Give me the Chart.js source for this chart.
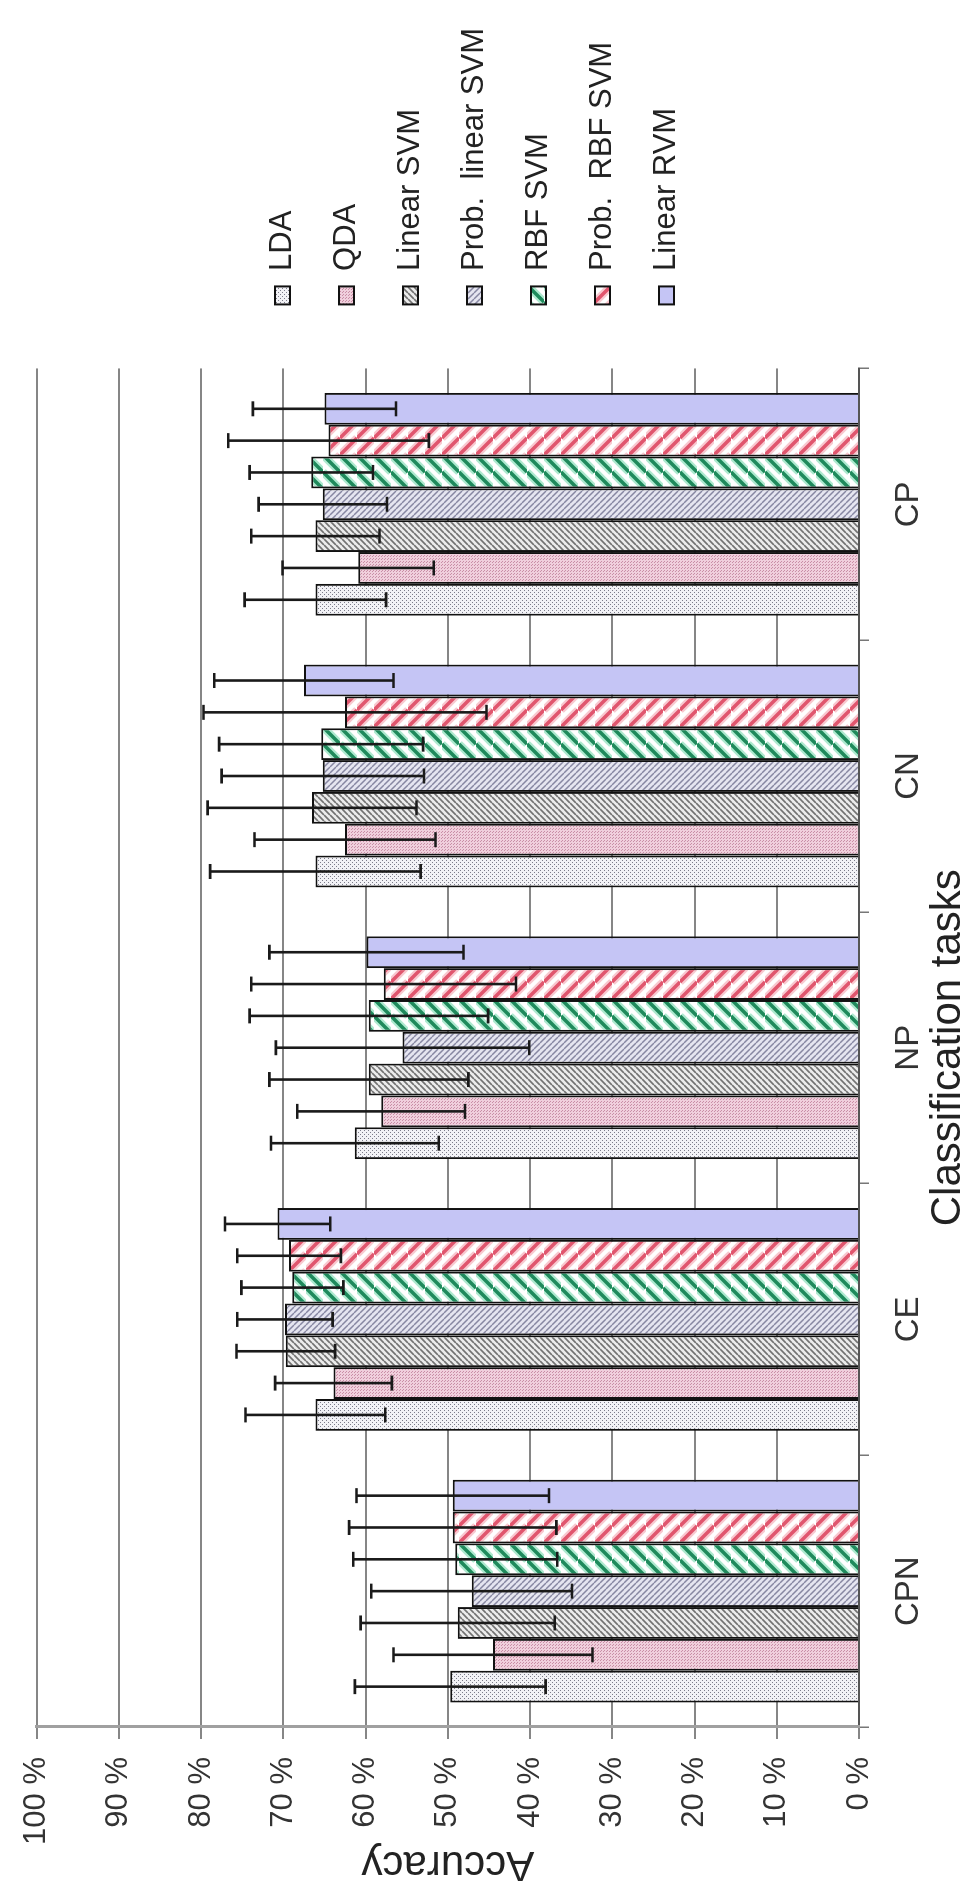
<!DOCTYPE html>
<html>
<head>
<meta charset="utf-8">
<title>Classification accuracy</title>
<script src="https://cdn.jsdelivr.net/npm/chart.js"></script>
<style>
  html, body { margin: 0; padding: 0; background: #ffffff; overflow: hidden; }
  body { width: 970px; height: 1883px; position: relative; }
  /* The chart is laid out landscape and turned a quarter-turn counter-clockwise */
  #wrap {
    position: absolute; left: 0; top: 0;
    width: 1883px; height: 970px;
    transform-origin: 0 0;
    transform: translate(0px, 1883px) rotate(-90deg);
  }
  #chart { display: block; width: 1883px; height: 970px; }
</style>
</head>
<body>
<div id="wrap"><canvas id="chart" width="1883" height="970"></canvas></div>
<script>
// Classification tasks
const tasks = ['CPN', 'CE', 'NP', 'CN', 'CP'];

// Classifier names
const classifiers = ['LDA', 'QDA', 'Linear SVM', 'Prob.  linear SVM', 'RBF SVM', 'Prob.  RBF SVM', 'Linear RVM'];

// Mean accuracy (%) per task
const ldaAcc        = [49.7, 66.1, 61.3, 66.1, 66.1];
const qdaAcc        = [44.5, 63.9, 58.1, 62.5, 60.9];
const linSvmAcc     = [48.8, 69.7, 59.6, 66.5, 66.1];
const probLinSvmAcc = [47.1, 69.8, 55.5, 65.2, 65.2];
const rbfSvmAcc     = [49.1, 68.9, 59.6, 65.4, 66.6];
const probRbfSvmAcc = [49.4, 69.3, 57.8, 62.5, 64.5];
const linRvmAcc     = [49.4, 70.7, 59.9, 67.5, 65.0];

// Standard deviation (%) per task
const ldaSd        = [11.6, 8.5, 10.2, 12.8, 8.6];
const qdaSd        = [12.1, 7.1, 10.2, 11.0, 9.2];
const linSvmSd     = [11.8, 6.0, 12.1, 12.7, 7.8];
const probLinSvmSd = [12.2, 5.8, 15.4, 12.3, 7.8];
const rbfSvmSd     = [12.4, 6.2, 14.5, 12.4, 7.5];
const probRbfSvmSd = [12.6, 6.3, 16.1, 17.2, 12.2];
const linRvmSd     = [11.7, 6.4, 11.8, 10.9, 8.7];

// Accuracy axis tick labels
const accuracyTicks = ['0 %', '10 %', '20 %', '30 %', '40 %', '50 %', '60 %', '70 %', '80 %', '90 %', '100 %'];

const FONT = "'Liberation Sans', Arial, Helvetica, sans-serif";

// ---- fill patterns ----
function hatch(size, bg, dir, strokes) {
  const c = document.createElement('canvas');
  c.width = c.height = size;
  const g = c.getContext('2d');
  g.fillStyle = bg;
  g.fillRect(0, 0, size, size);
  strokes.forEach(([color, width]) => {
    g.strokeStyle = color;
    g.lineWidth = width;
    g.beginPath();
    for (let k = -1; k <= 1; k++) {
      if (dir === '/') { g.moveTo(k * size, size); g.lineTo(k * size + size, 0); }
      else { g.moveTo(k * size, 0); g.lineTo(k * size + size, size); }
    }
    g.stroke();
  });
  return g.createPattern(c, 'repeat');
}

function dotted(size, bg, dot) {
  const c = document.createElement('canvas');
  c.width = c.height = size;
  const g = c.getContext('2d');
  g.fillStyle = bg;
  g.fillRect(0, 0, size, size);
  g.fillStyle = dot;
  const h = Math.floor(size / 2);
  g.fillRect(0, 0, 1, 1);
  g.fillRect(h, h, 1, 1);
  return g.createPattern(c, 'repeat');
}

const fills = [
  dotted(4, '#f2f2f6', '#7c7c8a'),                                       // LDA
  dotted(3, '#f0cfdc', '#c98ea6'),                                       // QDA
  hatch(6, '#ececec', '/', [['#727272', 1.6]]),                          // Linear SVM
  hatch(6, '#e5e5f0', '\\', [['#8787a2', 1.5]]),                         // Prob. linear SVM
  hatch(17, '#ffffff', '/', [['#aee9cf', 8], ['#1f8a5c', 3.6]]),         // RBF SVM
  hatch(17, '#ffffff', '\\', [['#f8c9d0', 8], ['#e0566e', 3.6]]),        // Prob. RBF SVM
  '#c5c5f5'                                                              // Linear RVM
];

const means = [ldaAcc, qdaAcc, linSvmAcc, probLinSvmAcc, rbfSvmAcc, probRbfSvmAcc, linRvmAcc];
const sds   = [ldaSd, qdaSd, linSvmSd, probLinSvmSd, rbfSvmSd, probRbfSvmSd, linRvmSd];

const datasets = classifiers.map((name, i) => ({
  label: name,
  data: means[i],
  errors: sds[i],
  backgroundColor: fills[i],
  borderColor: '#111111',
  borderWidth: 2,
  xAxisID: 'x',
  yAxisID: 'y'
}));

// Error bars: mean ± one standard deviation, with caps
const errorBars = {
  id: 'errorBars',
  afterDatasetsDraw(chart) {
    const { ctx } = chart;
    const yScale = chart.scales.y;
    ctx.save();
    ctx.strokeStyle = '#1a1a1a';
    ctx.lineWidth = 2.6;
    chart.data.datasets.forEach((ds, i) => {
      const meta = chart.getDatasetMeta(i);
      meta.data.forEach((bar, j) => {
        const v = ds.data[j], e = ds.errors[j];
        const top = yScale.getPixelForValue(v + e);
        const bot = yScale.getPixelForValue(v - e);
        const half = 7.5;
        ctx.beginPath();
        ctx.moveTo(bar.x, top); ctx.lineTo(bar.x, bot);
        ctx.moveTo(bar.x - half, top); ctx.lineTo(bar.x + half, top);
        ctx.moveTo(bar.x - half, bot); ctx.lineTo(bar.x + half, bot);
        ctx.stroke();
      });
    });
    ctx.restore();
  }
};

new Chart(document.getElementById('chart'), {
  type: 'bar',
  data: { labels: tasks, datasets },
  plugins: [errorBars],
  options: {
    responsive: false,
    animation: false,
    devicePixelRatio: 1,
    layout: { padding: { left: 0, top: 0, right: 18, bottom: 21 } },
    datasets: { bar: { categoryPercentage: 0.82, barPercentage: 1.0 } },
    plugins: {
      tooltip: { enabled: false },
      legend: {
        position: 'right',
        align: 'center',
        labels: {
          font: { family: FONT, size: 31 },
          color: '#222222',
          boxWidth: 18,
          boxHeight: 15,
          padding: 33
        }
      }
    },
    scales: {
      x: {
        position: 'bottom',
        grid: { display: true, drawOnChartArea: false, drawTicks: true, tickLength: 10, color: '#777777', lineWidth: 1.5, offset: true },
        border: { display: true, color: '#555555', width: 2 },
        ticks: { font: { family: FONT, size: 33 }, color: '#333333', padding: 20, maxRotation: 0 },
        title: {
          display: true,
          text: 'Classification tasks',
          font: { family: FONT, size: 42, lineHeight: 1.2 },
          color: '#222222',
          padding: { top: 0, bottom: -25 }
        },
        afterFit(s) { s.height = 90; }
      },
      y: {
        position: 'left',
        min: 0,
        max: 100,
        grid: { color: '#868686', lineWidth: 2, tickLength: 12 },
        border: { display: true, color: '#a0a0a0', width: 3 },
        ticks: {
          stepSize: 10,
          font: { family: FONT, size: 31 },
          color: '#333333',
          padding: 18,
          callback: (v, i) => accuracyTicks[i]
        },
        title: {
          display: true,
          text: 'Accuracy',
          font: { family: FONT, size: 42, lineHeight: 1 },
          color: '#222222',
          padding: { top: -2, bottom: 0 }
        },
        afterFit(s) { s.width = 156; }
      },
      // spacer between plot and legend
      yGap: {
        position: 'right',
        display: false,
        afterFit(s) { s.width = 31; }
      },
      // spacer above the 100 % line
      xGap: {
        position: 'top',
        display: false,
        afterFit(s) { s.height = 28; }
      }
    }
  }
});
</script>
</body>
</html>
